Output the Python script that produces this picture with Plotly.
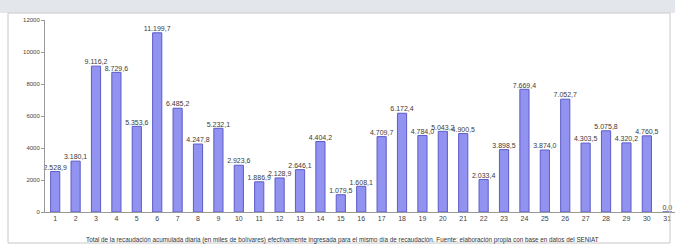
import plotly.graph_objects as go

days = [str(d) for d in range(1, 32)]
values = [2528.9, 3180.1, 9116.2, 8729.6, 5353.6, 11199.7, 6485.2, 4247.8, 5232.1, 2923.6,
          1886.9, 2128.9, 2646.1, 4404.2, 1079.5, 1608.1, 4709.7, 6172.4, 4784.0, 5043.2,
          4900.5, 2033.4, 3898.5, 7669.4, 3874.0, 7052.7, 4303.5, 5075.8, 4320.2, 4760.5, 0.0]
y_ticks = [0, 2000, 4000, 6000, 8000, 10000, 12000]
caption = ("Total de la recaudación acumulada diaria (en miles de bolívares) efectivamente ingresada "
           "para el mismo día de recaudación. Fuente: elaboración propia con base en datos del SENIAT")

x = list(range(1, 32))
fig = go.Figure()
fig.add_trace(go.Bar(
    x=x, y=values,
    marker=dict(color="#9292f0", line=dict(color="#5c5cc8", width=1)),
    width=0.45,
))
fig.add_trace(go.Scatter(
    x=x, y=values, mode="text",
    text=values, texttemplate="%{y:,.1f}", textposition="top center",
    textfont=dict(family="Liberation Sans, Arial", size=7, color="#3a3a3a"),
    cliponaxis=False, hoverinfo="skip",
))

fig.update_layout(
    width=675, height=246,
    margin=dict(l=45, r=0, t=20, b=34),
    paper_bgcolor="white", plot_bgcolor="white",
    separators=",.",
    showlegend=False,
    font=dict(family="Liberation Sans, Arial", size=7, color="#444444"),
    xaxis=dict(
        range=[0.5, 31.38], tickmode="array", tickvals=x, ticktext=days,
        showgrid=False, zeroline=False, showline=True, linecolor="#999999", linewidth=1,
        ticks="", tickfont=dict(size=7, color="#444444"),
    ),
    yaxis=dict(
        range=[0, 12000], tickvals=y_ticks, tickformat="d",
        showgrid=False, zeroline=False, showline=True, linecolor="#999999", linewidth=1,
        ticks="outside", ticklen=3, tickcolor="#999999",
        tickfont=dict(size=6, color="#444444"),
    ),
    shapes=[
        dict(type="rect", xref="paper", yref="paper", x0=-45/630, x1=1.0,
             y0=1 + 7/192, y1=1 + 20/192, fillcolor="#e3e7ec", line=dict(width=0), layer="below"),
        dict(type="rect", xref="paper", yref="paper", x0=-37/630, x1=(670-45)/630,
             y0=-31/192, y1=1 + 7/192, fillcolor="rgba(0,0,0,0)",
             line=dict(color="#c8c8c8", width=1)),
    ],
    annotations=[
        dict(text=caption, xref="paper", yref="paper", x=(342-45)/630, y=-28/192,
             xanchor="center", yanchor="middle", showarrow=False,
             font=dict(size=6.3, color="#333333")),
    ],
)

fig.write_html("out.html", config={"displayModeBar": False},
               post_script="document.body.style.margin='0';document.body.style.padding='0';")
